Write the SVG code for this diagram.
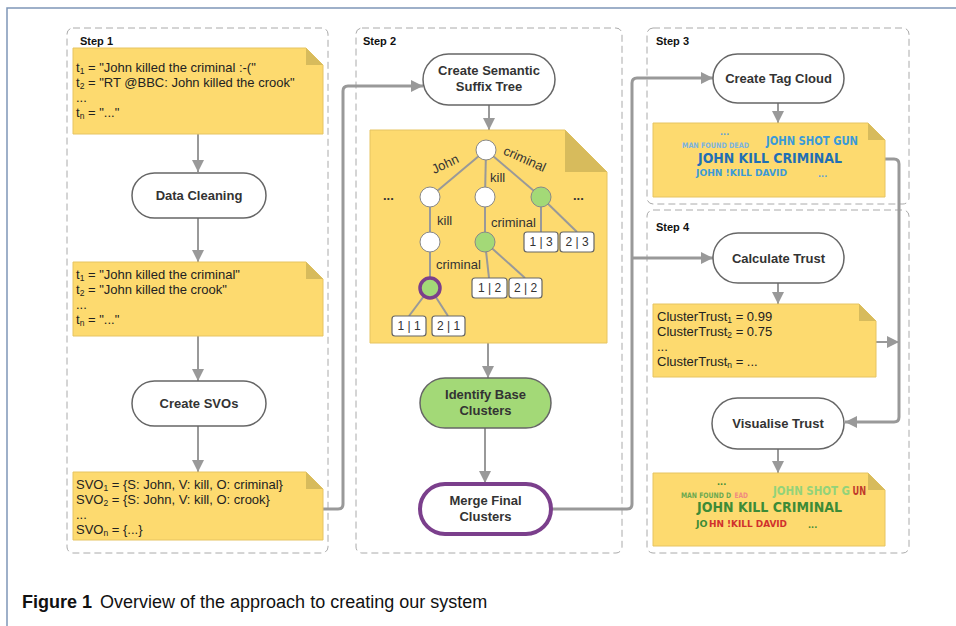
<svg xmlns="http://www.w3.org/2000/svg" width="956" height="626" viewBox="0 0 956 626">
<defs>
<marker id="ah" markerUnits="userSpaceOnUse" markerWidth="12" markerHeight="12" viewBox="0 0 12 12" refX="12" refY="6" orient="auto">
<path d="M0,0 L12,6 L0,12 Z" fill="#999"/>
</marker>
</defs>
<style>
.frame{fill:none;stroke:#7f97b8;stroke-width:1.5}
.step{fill:none;stroke:#aaa;stroke-width:1;stroke-dasharray:7 4}
.steplbl{font-family:"Liberation Sans",Arial,sans-serif;font-weight:bold;font-size:11px;fill:#111}
.note{fill:#fdda6f;stroke:#e6c463;stroke-width:1}
.fold{fill:#d7bb5c}
.nt{font-family:"Liberation Sans",Arial,sans-serif;font-size:13px;fill:#222}
.sub{font-size:8.5px}
.node{fill:#fff;stroke:#666;stroke-width:1.5}
.lbl{font-family:"Liberation Sans",Arial,sans-serif;font-weight:bold;font-size:13px;fill:#333;text-anchor:middle}
.con{fill:none;stroke:#999;stroke-width:2}
.thick{fill:none;stroke:#999;stroke-width:3}
.edge{stroke:#999;stroke-width:2;fill:none}
.tc{fill:#fff;stroke:#888;stroke-width:1}
.gc{fill:#a3d977;stroke:#888;stroke-width:1}
.leaf{fill:#fff;stroke:#666;stroke-width:1.2}
.lt{font-family:"Liberation Sans",Arial,sans-serif;font-size:12px;fill:#333;text-anchor:middle}
.tl{font-family:"Liberation Sans",Arial,sans-serif;font-size:13px;fill:#333}
.tag{font-family:"DejaVu Sans Condensed","DejaVu Sans",sans-serif;font-weight:bold}
.cap{font-family:"Liberation Sans",Arial,sans-serif;font-size:18px;fill:#111}
</style>
<rect width="956" height="626" fill="#fff"/>
<path class="frame" d="M7,626 V8 H956"/>

<!-- step boxes -->
<g id="step1">
<rect class="step" x="67" y="28" width="261" height="525" rx="6"/>
<text class="steplbl" x="80" y="45">Step 1</text>
</g>
<g id="step2">
<rect class="step" x="356" y="28" width="266" height="525" rx="6"/>
<text class="steplbl" x="363" y="45">Step 2</text>
</g>
<g id="step3">
<rect class="step" x="647" y="28" width="262" height="176" rx="6"/>
<text class="steplbl" x="656" y="45">Step 3</text>
</g>
<g id="step4">
<rect class="step" x="647" y="210" width="262" height="343" rx="6"/>
<text class="steplbl" x="656" y="231">Step 4</text>
</g>

<!-- connectors -->
<g id="connectors">
<line class="con" x1="198" y1="134" x2="198" y2="172" marker-end="url(#ah)"/>
<line class="con" x1="198" y1="218" x2="198" y2="262" marker-end="url(#ah)"/>
<line class="con" x1="198" y1="336" x2="198" y2="381" marker-end="url(#ah)"/>
<line class="con" x1="198" y1="426" x2="198" y2="472" marker-end="url(#ah)"/>
<path class="thick" d="M323,509 H338 Q343,509 343,504 V91 Q343,86 348,86 H423" marker-end="url(#ah)"/>
<line class="con" x1="489" y1="105" x2="489" y2="130" marker-end="url(#ah)"/>
<line class="con" x1="488" y1="343" x2="488" y2="378" marker-end="url(#ah)"/>
<line class="con" x1="485" y1="428" x2="485" y2="483" marker-end="url(#ah)"/>
<path class="thick" d="M552,509 H627 Q632,509 632,504 V83 Q632,78 637,78 H713" marker-end="url(#ah)"/>
<path class="thick" d="M632,258 H713" marker-end="url(#ah)"/>
<line class="con" x1="778" y1="103" x2="778" y2="123" marker-end="url(#ah)"/>
<path class="thick" d="M885,159 H894 Q899,159 899,164 V417 Q899,422 894,422 H845" marker-end="url(#ah)"/>
<line class="con" x1="876" y1="342" x2="899" y2="342" marker-end="url(#ah)"/>
<line class="con" x1="778" y1="283" x2="778" y2="304" marker-end="url(#ah)"/>
<line class="con" x1="778" y1="449" x2="778" y2="473" marker-end="url(#ah)"/>
</g>

<!-- Step 1 -->
<g id="tweets">
<path class="note" d="M73,48 H306 L323,65 V134 H73 Z"/>
<path class="fold" d="M306,48 L323,65 H306 Z"/>
<text class="nt" x="76" y="72">t<tspan class="sub" dy="2">1</tspan><tspan dy="-2"> = "John killed the criminal :-("</tspan></text>
<text class="nt" x="76" y="87">t<tspan class="sub" dy="2">2</tspan><tspan dy="-2"> = "RT @BBC: John killed the crook"</tspan></text>
<text class="nt" x="76" y="102">...</text>
<text class="nt" x="76" y="117">t<tspan class="sub" dy="2">n</tspan><tspan dy="-2"> = "..."</tspan></text>
</g>
<g id="data-cleaning">
<rect class="node" x="132" y="173" width="134" height="45" rx="22.5"/>
<text class="lbl" x="199" y="200">Data Cleaning</text>
</g>
<g id="cleaned">
<path class="note" d="M73,262 H306 L323,279 V336 H73 Z"/>
<path class="fold" d="M306,262 L323,279 H306 Z"/>
<text class="nt" x="76" y="279">t<tspan class="sub" dy="2">1</tspan><tspan dy="-2"> = "John killed the criminal"</tspan></text>
<text class="nt" x="76" y="294">t<tspan class="sub" dy="2">2</tspan><tspan dy="-2"> = "John killed the crook"</tspan></text>
<text class="nt" x="76" y="309">...</text>
<text class="nt" x="76" y="324">t<tspan class="sub" dy="2">n</tspan><tspan dy="-2"> = "..."</tspan></text>
</g>
<g id="create-svos">
<rect class="node" x="132" y="381" width="134" height="45" rx="22.5"/>
<text class="lbl" x="199" y="408">Create SVOs</text>
</g>
<g id="svos">
<path class="note" d="M73,472 H306 L323,489 V540 H73 Z"/>
<path class="fold" d="M306,472 L323,489 H306 Z"/>
<text class="nt" x="76" y="489">SVO<tspan class="sub" dy="2">1</tspan><tspan dy="-2"> = {S: John, V: kill, O: criminal}</tspan></text>
<text class="nt" x="76" y="504">SVO<tspan class="sub" dy="2">2</tspan><tspan dy="-2"> = {S: John, V: kill, O: crook}</tspan></text>
<text class="nt" x="76" y="519">...</text>
<text class="nt" x="76" y="534">SVO<tspan class="sub" dy="2">n</tspan><tspan dy="-2"> = {...}</tspan></text>
</g>

<!-- Step 2 -->
<g id="create-suffix-tree">
<rect class="node" x="423" y="54" width="132" height="51" rx="25.5"/>
<text class="lbl" x="489" y="75">Create Semantic</text>
<text class="lbl" x="489" y="91">Suffix Tree</text>
</g>
<g id="suffix-tree">
<path class="note" d="M370,130 H565 L607,172 V343 H370 Z"/>
<path class="fold" d="M565,130 L607,172 H565 Z"/>
<line class="edge" x1="486" y1="150" x2="430" y2="197"/>
<line class="edge" x1="486" y1="150" x2="485" y2="197"/>
<line class="edge" x1="486" y1="150" x2="541" y2="197"/>
<line class="edge" x1="430" y1="197" x2="430" y2="242"/>
<line class="edge" x1="430" y1="242" x2="430" y2="288"/>
<line class="edge" x1="485" y1="197" x2="485" y2="242"/>
<line class="edge" x1="541" y1="197" x2="541" y2="232"/>
<line class="edge" x1="541" y1="197" x2="577" y2="232"/>
<line class="edge" x1="485" y1="242" x2="489" y2="278"/>
<line class="edge" x1="485" y1="242" x2="525" y2="278"/>
<line class="edge" x1="430" y1="288" x2="409" y2="316"/>
<line class="edge" x1="430" y1="288" x2="448" y2="316"/>
<circle class="tc" cx="486" cy="150" r="10"/>
<circle class="tc" cx="430" cy="197" r="10"/>
<circle class="tc" cx="485" cy="197" r="10"/>
<circle class="gc" cx="541" cy="197" r="10"/>
<circle class="tc" cx="430" cy="242" r="10"/>
<circle class="gc" cx="485" cy="242" r="10"/>
<circle cx="430" cy="288" r="10" fill="#a3d977" stroke="#7b3f8c" stroke-width="3.5"/>
<text class="tl" transform="translate(447,168) rotate(-25)" text-anchor="middle">John</text>
<text class="tl" x="490" y="182">kill</text>
<text class="tl" transform="translate(523,163) rotate(24)" text-anchor="middle">criminal</text>
<text class="tl" x="437" y="225">kill</text>
<text class="tl" x="491" y="227">criminal</text>
<text class="tl" x="436" y="269">criminal</text>
<text class="tl" x="383" y="200" font-weight="bold">...</text>
<text class="tl" x="573" y="200" font-weight="bold">...</text>
<rect class="leaf" x="524" y="232" width="34" height="20" rx="3"/>
<text class="lt" x="541" y="246">1 | 3</text>
<rect class="leaf" x="560" y="232" width="34" height="20" rx="3"/>
<text class="lt" x="577" y="246">2 | 3</text>
<rect class="leaf" x="472" y="278" width="35" height="20" rx="3"/>
<text class="lt" x="489.5" y="292">1 | 2</text>
<rect class="leaf" x="509" y="278" width="33" height="20" rx="3"/>
<text class="lt" x="525.5" y="292">2 | 2</text>
<rect class="leaf" x="392" y="316" width="34" height="20" rx="3"/>
<text class="lt" x="409" y="330">1 | 1</text>
<rect class="leaf" x="432" y="316" width="33" height="20" rx="3"/>
<text class="lt" x="448.5" y="330">2 | 1</text>
</g>
<g id="identify-base-clusters">
<rect x="420" y="378" width="131" height="50" rx="25" fill="#a3d977" stroke="#666" stroke-width="1.5"/>
<text class="lbl" x="485.5" y="399">Identify Base</text>
<text class="lbl" x="485.5" y="415">Clusters</text>
</g>
<g id="merge-final-clusters">
<rect x="420" y="484" width="131" height="50" rx="25" fill="#fff" stroke="#7b3f8c" stroke-width="4"/>
<text class="lbl" x="485.5" y="505">Merge Final</text>
<text class="lbl" x="485.5" y="521">Clusters</text>
</g>

<!-- Step 3 -->
<g id="create-tag-cloud">
<rect class="node" x="713" y="54" width="131" height="49" rx="24.5"/>
<text class="lbl" x="778.5" y="83">Create Tag Cloud</text>
</g>
<g id="tag-cloud">
<path class="note" d="M653,123 H868 L885,140 V197 H653 Z"/>
<path class="fold" d="M868,123 L885,140 H868 Z"/>
<text class="tag" x="720" y="135" font-size="9" fill="#5a9fd8">...</text>
<text class="tag" x="766" y="145" font-size="12" fill="#3a9ad9" textLength="92" lengthAdjust="spacingAndGlyphs">JOHN SHOT GUN</text>
<text class="tag" x="682" y="148" font-size="7.5" fill="#7ab3e0" textLength="67" lengthAdjust="spacingAndGlyphs">MAN FOUND DEAD</text>
<text class="tag" x="698" y="163" font-size="14" fill="#1f6fb5" textLength="144" lengthAdjust="spacingAndGlyphs">JOHN KILL CRIMINAL</text>
<text class="tag" x="696" y="176" font-size="9.5" fill="#3c9ad8" textLength="91" lengthAdjust="spacingAndGlyphs">JOHN !KILL DAVID</text>
<text class="tag" x="818" y="177" font-size="9" fill="#5a9fd8">...</text>
</g>

<!-- Step 4 -->
<g id="calculate-trust">
<rect class="node" x="713" y="233" width="131" height="50" rx="25"/>
<text class="lbl" x="778.5" y="263">Calculate Trust</text>
</g>
<g id="cluster-trust">
<path class="note" d="M653,304 H859 L876,321 V377 H653 Z"/>
<path class="fold" d="M859,304 L876,321 H859 Z"/>
<text class="nt" x="657" y="321">ClusterTrust<tspan class="sub" dy="2">1</tspan><tspan dy="-2"> = 0.99</tspan></text>
<text class="nt" x="657" y="336">ClusterTrust<tspan class="sub" dy="2">2</tspan><tspan dy="-2"> = 0.75</tspan></text>
<text class="nt" x="657" y="351">...</text>
<text class="nt" x="657" y="366">ClusterTrust<tspan class="sub" dy="2">n</tspan><tspan dy="-2"> = ...</tspan></text>
</g>
<g id="visualise-trust">
<rect class="node" x="712" y="398" width="132" height="51" rx="25.5"/>
<text class="lbl" x="778" y="428">Visualise Trust</text>
</g>
<g id="trust-cloud">
<path class="note" d="M653,473 H868 L885,490 V546 H653 Z"/>
<path class="fold" d="M868,473 L885,490 H868 Z"/>
<text class="tag" x="717" y="485" font-size="9" fill="#3d8b37">...</text>
<text class="tag" x="773" y="495" font-size="12" fill="#93d37a" textLength="77" lengthAdjust="spacingAndGlyphs">JOHN SHOT G</text>
<text class="tag" x="852.5" y="495" font-size="12" fill="#c0392b" textLength="13.5" lengthAdjust="spacingAndGlyphs">UN</text>
<text class="tag" x="681" y="498" font-size="7.5" fill="#6aa84f" textLength="50" lengthAdjust="spacingAndGlyphs">MAN FOUND D</text>
<text class="tag" x="734.5" y="498" font-size="7.5" fill="#f08a80" textLength="13.5" lengthAdjust="spacingAndGlyphs">EAD</text>
<text class="tag" x="697" y="512" font-size="14" fill="#3d8b37" textLength="145" lengthAdjust="spacingAndGlyphs">JOHN KILL CRIMINAL</text>
<text class="tag" x="696" y="527" font-size="9.5" fill="#3d8b37" textLength="11.5" lengthAdjust="spacingAndGlyphs">JO</text>
<text class="tag" x="709" y="527" font-size="9.5" fill="#d0312d" textLength="78" lengthAdjust="spacingAndGlyphs">HN !KILL DAVID</text>
<text class="tag" x="808" y="528" font-size="9" fill="#3d8b37">...</text>
</g>

<!-- caption -->
<text class="cap" x="22" y="608"><tspan font-weight="bold">Figure 1</tspan><tspan dx="8">Overview of the approach to creating our system</tspan></text>
</svg>
